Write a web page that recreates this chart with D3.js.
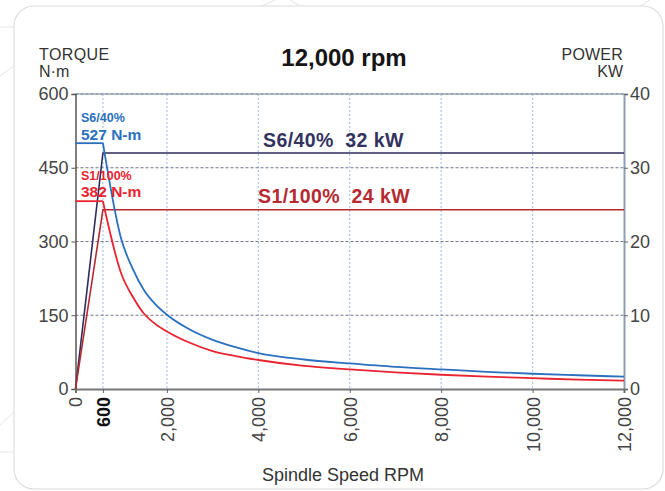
<!DOCTYPE html>
<html>
<head>
<meta charset="utf-8">
<script src="https://cdn.jsdelivr.net/npm/d3@7"></script>
<style>
  html, body { margin: 0; padding: 0; background: #ffffff; }
  svg { display: block; font-family: "Liberation Sans", Arial, sans-serif; }
</style>
</head>
<body>
<svg id="chart" width="665" height="491"></svg>
<script>
// ---- data ----
const title = "12,000 rpm";
const xTicks = [0, 600, 2000, 4000, 6000, 8000, 10000, 12000];
const xGrid = [600, 2000, 4000, 6000, 8000, 10000];
const torqueTicks = [0, 150, 300, 450, 600];
const powerTicks = [0, 10, 20, 30, 40];

const torqueRpm = [0, 600, 1000, 1250, 1500, 1750, 2000, 2500, 3000, 3500, 4000, 5000, 6000, 7000, 8000, 9000, 10000, 11000, 12000];
const torqueS6 = [500, 500, 305, 245, 201, 172, 151, 121, 100, 85, 73, 60, 52, 45, 40, 35, 31, 28, 25];
const torqueS1 = [382, 382, 235, 188, 153, 132, 117, 94, 77, 67, 59, 47, 40, 34, 29, 25, 22, 19, 17];

const powerRpm = [0, 600, 12000];
const powerS6 = [0, 32, 32];
const powerS1 = [0, 24.3, 24.3];

const colors = {
  torqueS6: "#2b70bf",
  torqueS1: "#ea2330",
  powerS6: "#2e2c5c",
  powerS1: "#b52a31"
};

// ---- drawing ----
const svg = d3.select("#chart");

// background decoration
const deco = svg.append("g").attr("stroke", "#e6e6e6").attr("stroke-width", 1).attr("fill", "none");
[[0,27,14,27],[0,76,14,66],[0,452,14,452],[0,425,14,412],[262,6,275,0],[640,6,650,0],[300,6,290,0]].forEach(l=>{
  deco.append("line").attr("x1",l[0]).attr("y1",l[1]).attr("x2",l[2]).attr("y2",l[3]);
});
svg.append("rect").attr("x", 14).attr("y", 6).attr("width", 649).attr("height", 483)
  .attr("rx", 20).attr("fill", "#fff").attr("stroke", "#dcdcdc").attr("stroke-width", 1.2);

const x = d3.scaleLinear().domain([0, 12000]).range([75.5, 624]);
const yT = d3.scaleLinear().domain([0, 600]).range([389, 94]);
const yP = d3.scaleLinear().domain([0, 40]).range([389, 94]);

// grid
const grid = svg.append("g");
grid.selectAll("line.v").data(xGrid).join("line")
  .attr("x1", d => x(d)).attr("x2", d => x(d))
  .attr("y1", yT(600)).attr("y2", yT(0))
  .attr("stroke", "#a9c7ea").attr("stroke-width", 1.2).attr("stroke-dasharray", "2,2");
grid.selectAll("line.h").data(torqueTicks.filter(d => d > 0 && d < 600)).join("line")
  .attr("x1", x(0)).attr("x2", x(12000))
  .attr("y1", d => yT(d)).attr("y2", d => yT(d))
  .attr("stroke", "#6f7786").attr("stroke-width", 1).attr("stroke-dasharray", "3,2");
grid.append("line")
  .attr("x1", x(0)).attr("x2", x(12000)).attr("y1", yT(600)).attr("y2", yT(600))
  .attr("stroke", "#b7c3d3").attr("stroke-width", 2);
grid.append("line")
  .attr("x1", x(0)).attr("x2", x(12000)).attr("y1", yT(600)).attr("y2", yT(600))
  .attr("stroke", "#7f8794").attr("stroke-width", 1).attr("stroke-dasharray", "3,2");

// axes
const tickFont = 18;
const leftAxis = svg.append("g").attr("transform", `translate(${x(0)},0)`)
  .call(d3.axisLeft(yT).tickValues(torqueTicks).tickSize(4).tickPadding(3).tickFormat(d3.format("d")));
leftAxis.select(".domain").attr("stroke", "#555").attr("stroke-width", 1.5);
leftAxis.selectAll(".tick line").attr("stroke", "#555");
leftAxis.selectAll("text").attr("font-size", tickFont).attr("fill", "#444").attr("font-family", "Liberation Sans, Arial, sans-serif");

const rightAxis = svg.append("g").attr("transform", `translate(${x(12000)},0)`)
  .call(d3.axisRight(yP).tickValues(powerTicks).tickSize(4).tickPadding(2));
rightAxis.select(".domain").attr("stroke", "#8e9db2").attr("stroke-width", 2);
rightAxis.selectAll(".tick line").attr("stroke", "#666");
rightAxis.selectAll("text").attr("font-size", tickFont).attr("fill", "#444").attr("font-family", "Liberation Sans, Arial, sans-serif");

const bottomAxis = svg.append("g").attr("transform", `translate(0,${yT(0)})`)
  .call(d3.axisBottom(x).tickValues(xTicks).tickSize(4).tickFormat(d3.format(",")));
bottomAxis.select(".domain").attr("stroke", "#777").attr("stroke-width", 2);
bottomAxis.selectAll(".tick line").attr("stroke", "#666");
bottomAxis.selectAll("text")
  .attr("transform", "rotate(-90)")
  .attr("x", -8).attr("y", 0).attr("dy", "0.36em")
  .attr("text-anchor", "end")
  .attr("font-size", tickFont)
  .attr("font-family", "Liberation Sans, Arial, sans-serif")
  .attr("font-weight", d => d === 600 ? "bold" : "normal")
  .attr("fill", d => d === 600 ? "#111" : "#444");

// lines
const lineT = d3.line().x(d => x(d[0])).y(d => yT(d[1]));
const lineTc = d3.line().x(d => x(d[0])).y(d => yT(d[1])).curve(d3.curveMonotoneX);
const lineP = d3.line().x(d => x(d[0])).y(d => yP(d[1]));

const s6 = torqueRpm.map((r, i) => [r, torqueS6[i]]);
const s1 = torqueRpm.map((r, i) => [r, torqueS1[i]]);

svg.append("path").attr("d", lineP(powerRpm.map((r, i) => [r, powerS6[i]])))
  .attr("fill", "none").attr("stroke", colors.powerS6).attr("stroke-width", 1.6);
svg.append("path").attr("d", lineP(powerRpm.map((r, i) => [r, powerS1[i]])))
  .attr("fill", "none").attr("stroke", colors.powerS1).attr("stroke-width", 1.6);

svg.append("path").attr("d", lineT(s6.slice(0, 2)))
  .attr("fill", "none").attr("stroke", colors.torqueS6).attr("stroke-width", 1.8);
svg.append("path").attr("d", lineTc(s6.slice(1)))
  .attr("fill", "none").attr("stroke", colors.torqueS6).attr("stroke-width", 1.8);
svg.append("path").attr("d", lineT(s1.slice(0, 2)))
  .attr("fill", "none").attr("stroke", colors.torqueS1).attr("stroke-width", 1.8);
svg.append("path").attr("d", lineTc(s1.slice(1)))
  .attr("fill", "none").attr("stroke", colors.torqueS1).attr("stroke-width", 1.8);

// labels
const lab = svg.append("g").attr("font-weight", "bold");
lab.append("text").attr("x", 81).attr("y", 122).attr("font-size", 12.5).attr("fill", colors.torqueS6).text("S6/40%");
lab.append("text").attr("x", 81).attr("y", 140).attr("font-size", 15.5).attr("fill", colors.torqueS6).text("527 N-m");
lab.append("text").attr("x", 81).attr("y", 180).attr("font-size", 12.5).attr("fill", colors.torqueS1).text("S1/100%");
lab.append("text").attr("x", 81).attr("y", 197).attr("font-size", 15.5).attr("fill", colors.torqueS1).text("382 N-m");

lab.append("text").attr("x", 263).attr("y", 147).attr("font-size", 19.5).attr("letter-spacing", 0.4)
  .attr("fill", "#34335f").style("white-space", "pre").text("S6/40%  32 kW");
lab.append("text").attr("x", 258).attr("y", 203).attr("font-size", 19.5).attr("letter-spacing", 0.4)
  .attr("fill", colors.powerS1).style("white-space", "pre").text("S1/100%  24 kW");

// titles
svg.append("text").attr("x", 344).attr("y", 66).attr("text-anchor", "middle")
  .attr("font-size", 24).attr("font-weight", "bold").attr("fill", "#151515").text(title);
svg.append("text").attr("x", 39).attr("y", 60).attr("font-size", 16).attr("letter-spacing", 0.4).attr("fill", "#333").text("TORQUE");
svg.append("text").attr("x", 39).attr("y", 77).attr("font-size", 16).attr("fill", "#333").text("N·m");
svg.append("text").attr("x", 623).attr("y", 60).attr("text-anchor", "end").attr("font-size", 16).attr("letter-spacing", 0.2).attr("fill", "#333").text("POWER");
svg.append("text").attr("x", 623).attr("y", 77).attr("text-anchor", "end").attr("font-size", 16).attr("fill", "#333").text("KW");
svg.append("text").attr("x", 343).attr("y", 481).attr("text-anchor", "middle")
  .attr("font-size", 18).attr("fill", "#333").text("Spindle Speed RPM");
</script>
</body>
</html>
